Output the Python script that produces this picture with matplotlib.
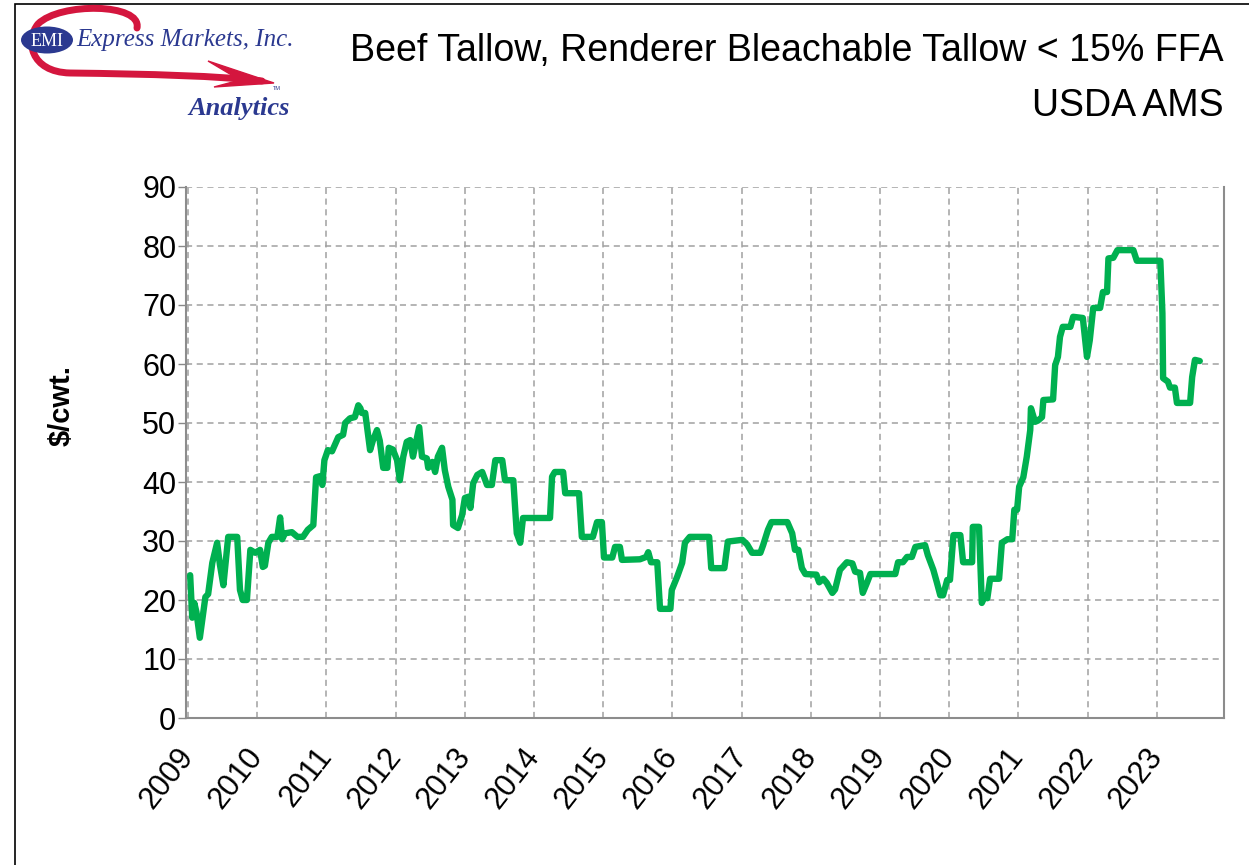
import matplotlib
matplotlib.use("Agg")
import matplotlib.pyplot as plt
from matplotlib.patches import Ellipse, Polygon, PathPatch, Rectangle
from matplotlib.path import Path

# ---------------- data (decimal year, $/cwt.) ----------------
dates = [
    2009.03, 2009.06, 2009.09, 2009.12, 2009.17, 2009.25, 2009.29, 2009.35, 2009.42, 2009.46,
    2009.51, 2009.58, 2009.71, 2009.75, 2009.79, 2009.85, 2009.90, 2009.97, 2010.04, 2010.08,
    2010.11, 2010.16, 2010.21, 2010.29, 2010.33, 2010.36, 2010.40, 2010.50, 2010.58, 2010.66,
    2010.73, 2010.81, 2010.85, 2010.91, 2010.94, 2010.97, 2011.02, 2011.08, 2011.11, 2011.17,
    2011.24, 2011.27, 2011.34, 2011.41, 2011.46, 2011.49, 2011.51, 2011.56, 2011.63, 2011.67,
    2011.73, 2011.77, 2011.82, 2011.88, 2011.90, 2011.96, 2012.02, 2012.06, 2012.11, 2012.16,
    2012.21, 2012.25, 2012.31, 2012.34, 2012.38, 2012.45, 2012.47, 2012.53, 2012.57, 2012.61,
    2012.67, 2012.71, 2012.76, 2012.82, 2012.83, 2012.90, 2012.96, 2013.00, 2013.05, 2013.08,
    2013.12, 2013.18, 2013.25, 2013.32, 2013.39, 2013.44, 2013.54, 2013.58, 2013.70, 2013.75,
    2013.80, 2013.84, 2014.23, 2014.26, 2014.30, 2014.42, 2014.45, 2014.65, 2014.69, 2014.85,
    2014.91, 2014.98, 2015.01, 2015.13, 2015.17, 2015.24, 2015.27, 2015.53, 2015.62, 2015.65,
    2015.69, 2015.78, 2015.82, 2015.97, 2015.99, 2016.07, 2016.14, 2016.18, 2016.25, 2016.53,
    2016.56, 2016.75, 2016.80, 2017.01, 2017.08, 2017.15, 2017.27, 2017.31, 2017.38, 2017.43,
    2017.66, 2017.73, 2017.77, 2017.82, 2017.87, 2017.92, 2018.08, 2018.12, 2018.18, 2018.23,
    2018.31, 2018.35, 2018.42, 2018.52, 2018.60, 2018.64, 2018.71, 2018.75, 2018.81, 2018.86,
    2019.22, 2019.26, 2019.33, 2019.39, 2019.46, 2019.51, 2019.65, 2019.69, 2019.77, 2019.82,
    2019.87, 2019.91, 2019.97, 2020.01, 2020.06, 2020.16, 2020.20, 2020.33, 2020.34, 2020.43,
    2020.47, 2020.52, 2020.55, 2020.59, 2020.72, 2020.76, 2020.84, 2020.91, 2020.94, 2020.98,
    2021.01, 2021.07, 2021.12, 2021.17, 2021.18, 2021.24, 2021.28, 2021.34, 2021.36, 2021.50,
    2021.53, 2021.57, 2021.60, 2021.64, 2021.75, 2021.79, 2021.93, 2021.99, 2022.03, 2022.08,
    2022.18, 2022.22, 2022.28, 2022.30, 2022.37, 2022.43, 2022.66, 2022.71, 2023.05, 2023.08,
    2023.09, 2023.16, 2023.19, 2023.26, 2023.29, 2023.48, 2023.51, 2023.55, 2023.62,
]
prices = [
    24.2, 17.0, 19.5, 18.0, 13.6, 20.5, 21.0, 26.3, 29.7, 26.0,
    22.5, 30.7, 30.7, 21.7, 20.0, 20.0, 28.5, 28.0, 28.5, 25.6,
    25.8, 29.7, 30.7, 30.7, 34.0, 30.3, 31.3, 31.5, 30.7, 30.7,
    31.9, 32.7, 40.8, 41.0, 39.5, 43.7, 45.4, 45.2, 46.0, 47.6,
    48.0, 50.0, 50.8, 51.0, 53.0, 52.5, 51.7, 51.7, 45.4, 47.0,
    48.8, 47.0, 42.4, 42.4, 45.8, 45.5, 43.7, 40.3, 44.3, 46.8,
    47.1, 44.3, 47.6, 49.3, 44.3, 44.0, 42.4, 43.4, 41.7, 44.3,
    45.8, 42.0, 39.2, 37.0, 32.7, 32.2, 34.4, 37.3, 37.5, 35.6,
    39.8, 41.2, 41.7, 39.5, 39.5, 43.7, 43.7, 40.3, 40.3, 31.3,
    29.7, 33.9, 33.9, 40.9, 41.7, 41.7, 38.1, 38.1, 30.7, 30.7,
    33.2, 33.2, 27.2, 27.2, 29.0, 29.0, 26.8, 26.9, 27.3, 28.1,
    26.4, 26.4, 18.5, 18.5, 21.7, 24.0, 26.3, 29.7, 30.7, 30.7,
    25.4, 25.4, 29.9, 30.2, 29.4, 28.0, 28.0, 29.3, 31.9, 33.2,
    33.2, 31.3, 28.5, 28.5, 25.4, 24.4, 24.3, 23.0, 23.6, 22.9,
    21.2, 21.8, 25.1, 26.4, 26.2, 24.8, 24.6, 21.2, 22.9, 24.4,
    24.4, 26.4, 26.4, 27.3, 27.3, 29.0, 29.3, 27.6, 25.1, 23.0,
    20.8, 20.8, 23.4, 23.4, 31.0, 31.0, 26.4, 26.4, 32.4, 32.4,
    19.5, 20.8, 20.3, 23.6, 23.6, 29.7, 30.3, 30.3, 35.3, 35.3,
    39.2, 40.8, 44.3, 48.8, 52.5, 50.2, 50.4, 51.0, 53.9, 54.0,
    59.8, 61.2, 64.6, 66.3, 66.3, 68.0, 67.8, 61.2, 64.0, 69.5,
    69.5, 72.2, 72.2, 77.9, 78.0, 79.3, 79.3, 77.5, 77.5, 68.6,
    57.6, 57.0, 56.0, 56.0, 53.4, 53.4, 57.8, 60.7, 60.5,
]
year_ticks = list(range(2009, 2024))
y_ticks = list(range(0, 100, 10))

title_line1 = "Beef Tallow, Renderer Bleachable Tallow < 15% FFA"
title_line2 = "USDA AMS"
y_label = "$/cwt."

# ---------------- figure ----------------
W, H = 1249, 865
fig = plt.figure(figsize=(W / 100, H / 100), dpi=100)
fig.patch.set_facecolor("white")


def fx(x):
    return x / W


def fy(y):
    return 1 - y / H


# outer frame
fig.add_artist(Rectangle((fx(15), -0.01), 1.0, fy(4) + 0.01, transform=fig.transFigure,
                         fill=False, edgecolor="black", lw=1.2))

ax = fig.add_axes([fx(186), fy(718), fx(1224) - fx(186), fy(187) - fy(718)])
ax.plot(dates, prices, color="#00B050", lw=4.6, solid_joinstyle="round",
        solid_capstyle="round", zorder=3)

ax.set_xlim(2008.97, 2023.97)
ax.set_ylim(0, 90)
ax.set_xticks(year_ticks)
ax.set_xticklabels([str(y) for y in year_ticks], rotation=52, ha="right", va="center",
                   rotation_mode="anchor", fontsize=22, family="Liberation Sans")
ax.set_yticks(y_ticks)
ax.set_yticklabels([str(v) for v in y_ticks], fontsize=22, family="Liberation Sans")
ax.tick_params(axis="x", length=0, pad=24)
ax.tick_params(axis="y", length=6, width=1, color="#888888", pad=1)
ax.grid(True, color="#A0A0A0", linestyle=(0, (4, 3)), lw=1.1)
ax.set_axisbelow(True)
for s in ["left", "bottom", "right"]:
    ax.spines[s].set_color("#8C8C8C")
    ax.spines[s].set_linewidth(1.5)
ax.spines["top"].set_visible(False)

fig.text(fx(62), fy(405), y_label, rotation=90, ha="center", va="center",
         fontsize=21, fontweight="bold", family="Liberation Sans")

fig.text(fx(1224), fy(51), title_line1, ha="right", va="center", fontsize=27,
         family="Liberation Sans")
fig.text(fx(1224), fy(106), title_line2, ha="right", va="center", fontsize=27,
         family="Liberation Sans")

# ---------------- logo ----------------
red = "#D4163E"
blue = "#2B3990"
verts = [(137, 28), (142, 3), (60, 2), (38, 24),
         (25, 40), (30, 72), (70, 73),
         (150, 74), (220, 76), (262, 81)]
verts_f = [(fx(x), fy(y)) for x, y in verts]
codes = [Path.MOVETO, Path.CURVE4, Path.CURVE4, Path.CURVE4,
         Path.CURVE4, Path.CURVE4, Path.CURVE4,
         Path.CURVE4, Path.CURVE4, Path.CURVE4]
fig.add_artist(PathPatch(Path(verts_f, codes), transform=fig.transFigure, fill=False,
                         edgecolor=red, lw=5, capstyle="round"))
fig.add_artist(Polygon([(fx(208), fy(61)), (fx(274), fy(83)), (fx(214), fy(87)),
                        (fx(240), fy(80))],
                       closed=True, transform=fig.transFigure, facecolor=red,
                       edgecolor=red, lw=1))
fig.add_artist(Ellipse((fx(47), fy(40)), fx(52), 27 / H, transform=fig.transFigure,
                       facecolor=blue, edgecolor="none"))
fig.text(fx(47), fy(41), "EMI", ha="center", va="center", color="white", fontsize=13,
         family="Liberation Serif")
fig.text(fx(76), fy(40), "Express Markets, Inc.", ha="left", va="center", color=blue,
         fontsize=18, style="italic", family="Liberation Serif")
fig.text(fx(290), fy(108), "Analytics", ha="right", va="center", color=blue,
         fontsize=19, style="italic", fontweight="bold", family="Liberation Serif")
fig.text(fx(277), fy(89), "TM", ha="center", va="center", color=blue, fontsize=4,
         family="Liberation Sans")

fig.savefig("out.png", dpi=100, facecolor="white")
